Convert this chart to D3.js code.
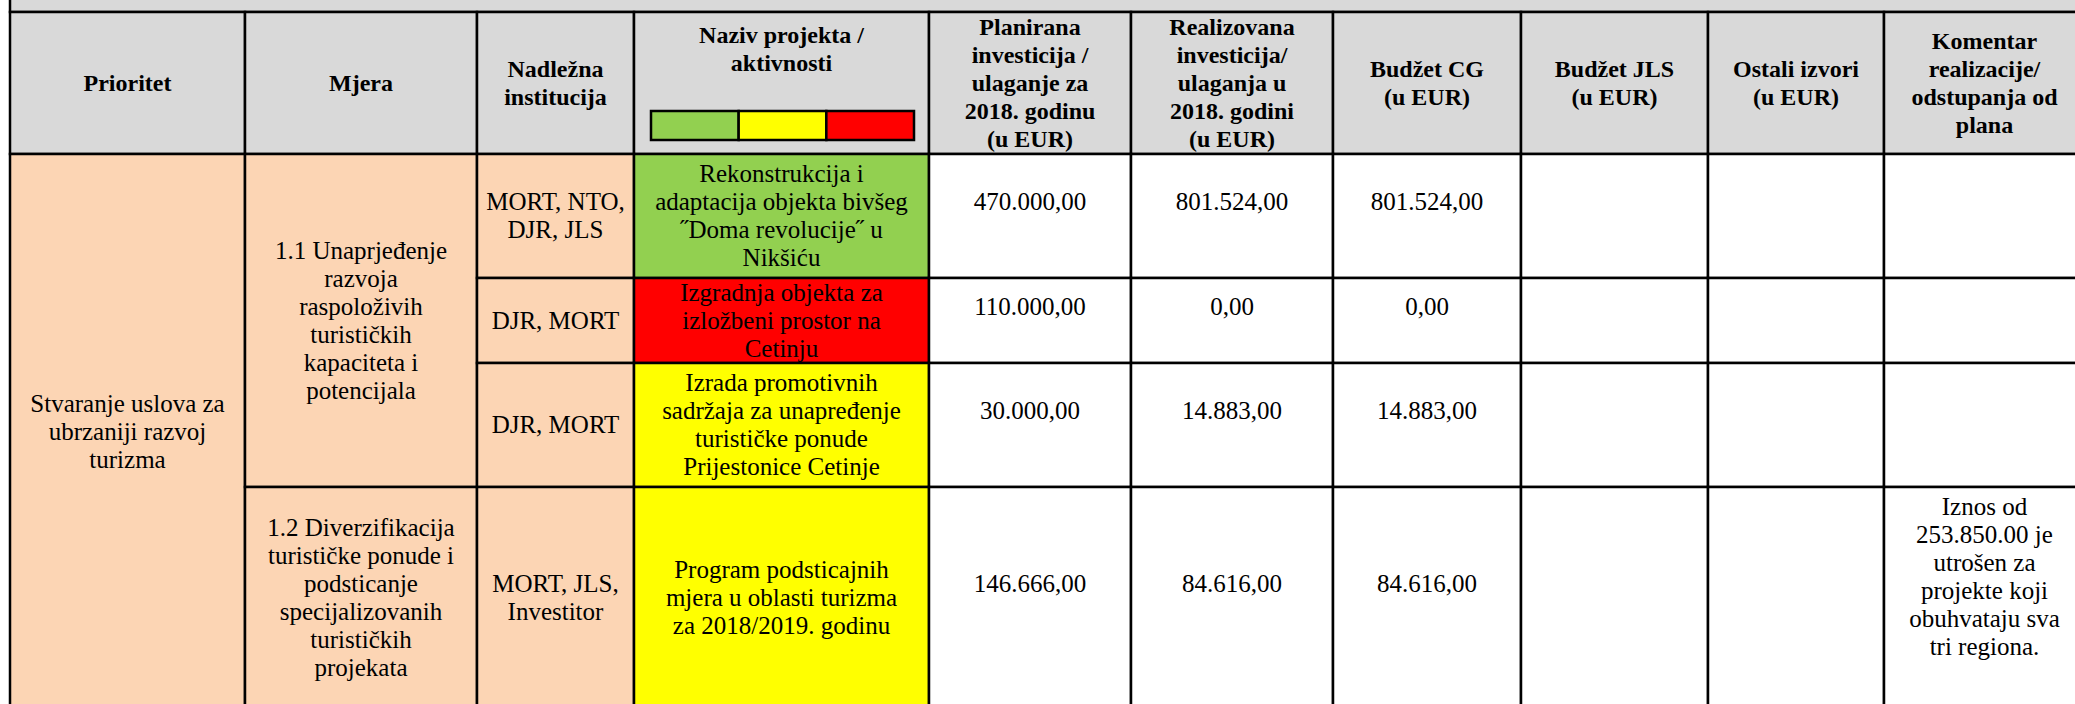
<!DOCTYPE html>
<html>
<head>
<meta charset="utf-8">
<script src="https://d3js.org/d3.v7.min.js"></script>
<style>
body { margin: 0; background: #fff; }
text { font-family: "Liberation Serif", "Times New Roman", serif; fill: #000; }
</style>
</head>
<body>
<svg class="table"></svg>
<script>
var width = 2075;
var height = 704;

// header labels, one per column
var headers = ["Prioritet", "Mjera", "Nadležna\ninstitucija", "Naziv projekta /\naktivnosti",
    "Planirana\ninvesticija /\nulaganje za\n2018. godinu\n(u EUR)",
    "Realizovana\ninvesticija/\nulaganja  u\n2018. godini\n(u EUR)",
    "Budžet CG\n(u EUR)", "Budžet JLS\n(u EUR)", "Ostali izvori\n(u EUR)",
    "Komentar\nrealizacije/\nodstupanja od\nplana"];

// status legend shown under "Naziv projekta"
var statusColors = ["#92d050", "#ffff00", "#ff0000"];

var priorities = ["Stvaranje uslova za\nubrzaniji razvoj\nturizma"];
var measures = ["1.1 Unaprjeđenje\nrazvoja\nraspoloživih\nturističkih\nkapaciteta i\npotencijala",
    "1.2 Diverzifikacija\nturističke ponude i\npodsticanje\nspecijalizovanih\nturističkih\nprojekata"];
var measureRows = [[0, 3], [3, 4]]; // which project rows each measure spans

var institutions = ["MORT, NTO,\nDJR, JLS", "DJR, MORT", "DJR, MORT", "MORT, JLS,\nInvestitor"];
var projects = ["Rekonstrukcija i\nadaptacija objekta bivšeg\n\u02DDDoma revolucije\u02DD u\nNikšiću",
    "Izgradnja objekta za\nizložbeni prostor na\nCetinju",
    "Izrada promotivnih\nsadržaja za unapređenje\nturističke ponude\nPrijestonice Cetinje",
    "Program podsticajnih\nmjera u oblasti turizma\nza 2018/2019. godinu"];
var projectStatus = [0, 2, 1, 1]; // 0 green, 1 yellow, 2 red
var planned = [470000, 110000, 30000, 146666];
var realized = [801524, 0, 14883, 84616];
var budgetCG = [801524, 0, 14883, 84616];
var budgetJLS = [null, null, null, null];
var otherSources = [null, null, null, null];
var comments = ["", "", "", "Iznos od\n253.850.00 je\nutrošen za\nprojekte koji\nobuhvataju sva\ntri regiona."];

// column and row edges of the grid (row -1 is the header)
var colEdges = [10, 245, 477, 634, 929, 1131, 1333, 1521, 1708, 1884, 2085];
var rowEdges = [12, 154, 278, 363, 487, 709];

var x = d3.scaleLinear().domain(d3.range(colEdges.length)).range(colEdges);
var y = d3.scaleLinear().domain(d3.range(-1, rowEdges.length - 1)).range(rowEdges);

// montenegrin number format: 470.000,00
var fmt = d3.formatLocale({decimal: ",", thousands: ".", grouping: [3], currency: ["", ""]}).format(",.2f");

var peach = "#fcd5b4";
var gray = "#d9d9d9";
var lineH = 28;

var svg = d3.select(".table")
    .attr("width", width)
    .attr("height", height);

// build the list of cells
var cells = [];
headers.forEach(function(h, i) {
    cells.push({c0: i, c1: i + 1, r0: -1, r1: 0, fill: gray, text: h, bold: true,
        align: i == 3 ? "top" : "middle", pad: 23, dy: 0});
});
cells.push({c0: 0, c1: 1, r0: 0, r1: 4, fill: peach, text: priorities[0], align: "middle", dy: 0});
measures.forEach(function(m, i) {
    cells.push({c0: 1, c1: 2, r0: measureRows[i][0], r1: measureRows[i][1], fill: peach, text: m, align: "middle", dy: 0});
});
projects.forEach(function(p, i) {
    cells.push({c0: 2, c1: 3, r0: i, r1: i + 1, fill: peach, text: institutions[i], align: "middle", dy: 0});
    cells.push({c0: 3, c1: 4, r0: i, r1: i + 1, fill: statusColors[projectStatus[i]], text: p, align: "middle", dy: 0});
    [planned, realized, budgetCG, budgetJLS, otherSources].forEach(function(arr, k) {
        cells.push({c0: 4 + k, c1: 5 + k, r0: i, r1: i + 1, fill: "#fff",
            text: arr[i] == null ? "" : fmt(arr[i]), align: "middle", dy: -14});
    });
    cells.push({c0: 9, c1: 10, r0: i, r1: i + 1, fill: "#fff", text: comments[i], align: "top", pad: 20, dy: 0});
});

// strip of the previous gray row at the very top
svg.append("rect")
    .attr("x", x(0)).attr("y", -20)
    .attr("width", x(10) - x(0)).attr("height", y(-1) + 20)
    .style("fill", gray).style("stroke", "#000").style("stroke-width", 2.5);

var cell = svg.selectAll("g.cell")
    .data(cells)
    .enter().append("g")
    .attr("class", "cell");

cell.append("rect")
    .attr("x", function(d) { return x(d.c0); })
    .attr("y", function(d) { return y(d.r0); })
    .attr("width", function(d) { return x(d.c1) - x(d.c0); })
    .attr("height", function(d) { return y(d.r1) - y(d.r0); })
    .style("fill", function(d) { return d.fill; })
    .style("stroke", "#000")
    .style("stroke-width", 2.5);

cell.each(function(d) {
    if (!d.text) return;
    var lines = d.text.split("\n");
    var cx = (x(d.c0) + x(d.c1)) / 2;
    var y0;
    if (d.align == "top") {
        y0 = y(d.r0) + d.pad;
    } else {
        y0 = (y(d.r0) + y(d.r1)) / 2 - (lines.length - 1) * lineH / 2 + d.dy;
    }
    d3.select(this).append("text")
        .attr("text-anchor", "middle")
        .style("font-size", d.bold ? "24px" : "25px")
        .style("font-weight", d.bold ? "bold" : "normal")
        .selectAll("tspan")
        .data(lines)
        .enter().append("tspan")
        .attr("x", cx)
        .attr("y", function(l, j) { return y0 + j * lineH; })
        .attr("dy", "0.33em")
        .text(function(l) { return l; });
});

// legend boxes in the project header
var legendX = d3.scaleBand().domain(d3.range(statusColors.length)).range([651, 914]);
svg.selectAll("rect.legend")
    .data(statusColors)
    .enter().append("rect")
    .attr("class", "legend")
    .attr("x", function(d, i) { return legendX(i); })
    .attr("y", 111)
    .attr("width", legendX.bandwidth())
    .attr("height", 29)
    .style("fill", function(d) { return d; })
    .style("stroke", "#000")
    .style("stroke-width", 2.5);
</script>
</body>
</html>
